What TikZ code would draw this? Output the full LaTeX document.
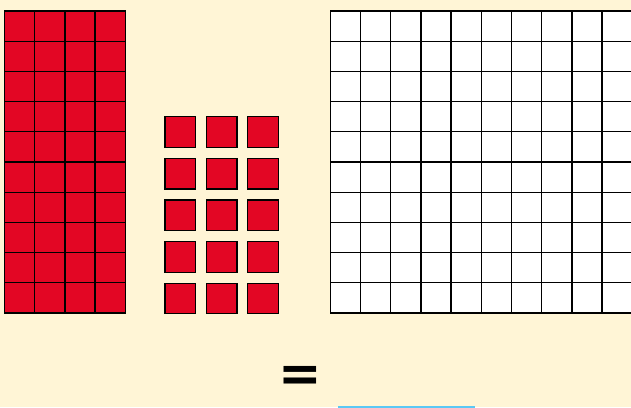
\documentclass[tikz,border=0pt]{standalone}
\usepackage{fontspec}
\newfontfamily\eqfont{DejaVu Sans}
\usetikzlibrary{positioning}
\definecolor{cream}{RGB}{255,245,214}
\definecolor{tilered}{RGB}{227,6,36}
\definecolor{answerblue}{RGB}{90,200,245}

\begin{document}
\begin{tikzpicture}[x=1pt, y=-1pt,
  every node/.style={inner sep=0pt, outer sep=0pt},
  cell/.style={draw=black, line width=1.3pt, minimum size=30.2pt, anchor=north west},
  tile/.style={draw=black, line width=1.3pt, fill=tilered, minimum size=30.5pt, anchor=north west}]
  \fill[cream] (0,0) rectangle (631,407);
  \useasboundingbox (0,0) rectangle (631,407);
  \clip (0,0) rectangle (631,407);
  % tens: four red columns of ten
  \foreach \i in {0,...,3} {
    \foreach \j in {0,...,9} {
      \node[cell, fill=tilered] (t\i\j) at (4.5+30.2*\i, 11+30.2*\j) {};
    }
  }
  % ones: three by five loose squares
  \foreach \i in {0,1,2} {
    \foreach \j in {0,...,4} {
      \node[tile] (u\i\j) at (165+41.35*\i, 116.7+41.65*\j) {};
    }
  }
  % empty hundred board
  \foreach \i in {0,...,9} {
    \foreach \j in {0,...,9} {
      \node[cell, fill=white] (h\i\j) at (330.3+30.2*\i, 11+30.2*\j) {};
    }
  }
  \node[font=\eqfont\bfseries\fontsize{52}{52}\selectfont] (eq) at (300.3,379) {=};
  \draw[answerblue, line width=2pt] (338,406.5) -- (475,406.5);
\end{tikzpicture}
\end{document}
